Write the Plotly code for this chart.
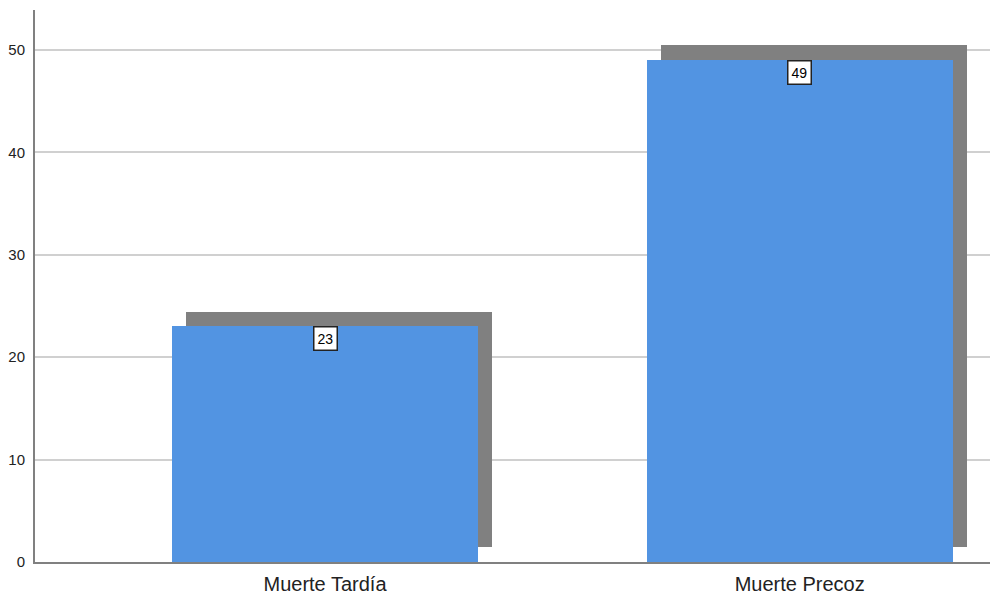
import plotly.graph_objects as go

categories = ["Muerte Tardía", "Muerte Precoz"]
values = [23, 49]
y_ticks = [0, 10, 20, 30, 40, 50]

x_pos = list(range(len(categories)))
bar_width = 0.645
shadow_dx = 0.0295
shadow_dy = 1.45

FONT = "Liberation Sans, Arial, sans-serif"

fig = go.Figure()
fig.add_trace(go.Bar(
    x=x_pos, y=values, base=shadow_dy, width=bar_width,
    offset=-bar_width / 2 + shadow_dx,
    marker=dict(color="#808080", line=dict(width=0)),
    hoverinfo="skip", showlegend=False,
))
fig.add_trace(go.Bar(
    x=x_pos, y=values, width=bar_width, offset=-bar_width / 2,
    marker=dict(color="#5294E2", line=dict(width=0)),
    showlegend=False,
))
for xi, v in zip(x_pos, values):
    fig.add_annotation(
        x=xi, y=v, xref="x", yref="y", text=str(v), showarrow=False,
        yanchor="top", xanchor="center",
        font=dict(family=FONT, size=14, color="#000000"),
        bgcolor="#ffffff", bordercolor="#222222", borderwidth=1.5, borderpad=3,
    )

fig.update_layout(
    width=990, height=598,
    margin=dict(l=35, r=0, t=10, b=36, autoexpand=False),
    paper_bgcolor="#ffffff", plot_bgcolor="#ffffff",
    barmode="overlay", bargap=0,
    font=dict(family=FONT, color="#222222"),
)
fig.update_xaxes(
    range=[-0.611, 1.401], tickmode="array", tickvals=x_pos, ticktext=categories,
    tickfont=dict(size=20, color="#222222"), showgrid=False, zeroline=False,
    showline=True, linecolor="#808080", linewidth=1.5, ticks="",
    automargin=False, ticklabelstandoff=3,
)
fig.update_yaxes(
    range=[0, 53.9], tickmode="array", tickvals=y_ticks,
    tickfont=dict(size=15, color="#222222"), showgrid=True, gridcolor="#d0d0d0",
    gridwidth=1.5, zeroline=False, showline=True, linecolor="#808080", linewidth=2,
    ticks="", automargin=False, ticklabelstandoff=5,
)
fig.write_html(
    "out.html",
    config={"displayModeBar": False},
    post_script="document.body.style.margin='0';document.body.style.overflow='hidden';",
)
